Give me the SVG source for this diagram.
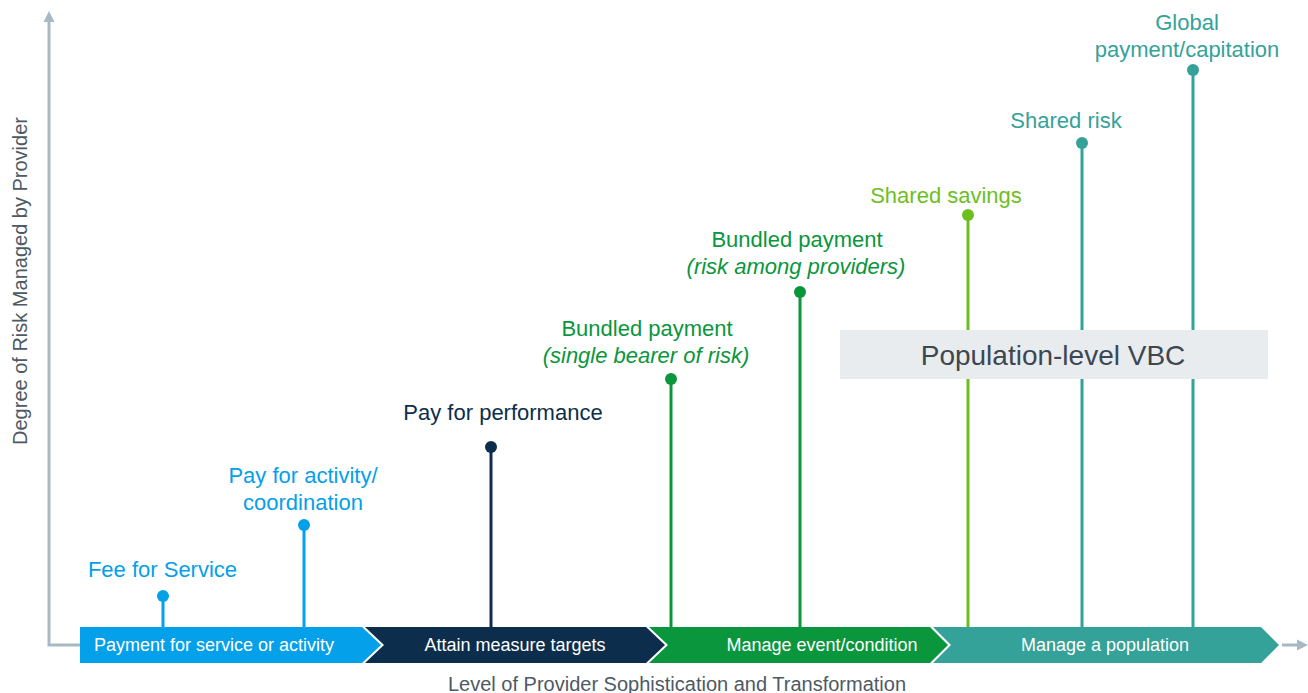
<svg xmlns="http://www.w3.org/2000/svg" width="1308" height="693" viewBox="0 0 1308 693">
  <style>
    text { font-family: "Liberation Sans", Arial, Helvetica, sans-serif; }
    .lbl { font-size: 22px; text-anchor: middle; }
    .it { font-style: italic; }
    .bar { font-size: 18px; fill: #ffffff; text-anchor: middle; }
    .axis-t { font-size: 20px; fill: #4d5964; text-anchor: middle; }
    .axis { stroke: #a9b9c3; stroke-width: 3; fill: none; }
    .stem { stroke-width: 3; fill: none; }
    .c-blue { fill: #05a0ea; } .s-blue { stroke: #05a0ea; }
    .c-navy { fill: #0c2e4c; } .s-navy { stroke: #0c2e4c; }
    .c-green { fill: #0a963c; } .s-green { stroke: #0a963c; }
    .c-lime { fill: #6cbf1f; } .s-lime { stroke: #6cbf1f; }
    .c-teal { fill: #35a299; } .s-teal { stroke: #35a299; }
  </style>
  <rect width="1308" height="693" fill="#ffffff"/>

  <!-- axes -->
  <g id="axes">
    <polyline class="axis" points="49,20 49,645 80,645"/>
    <polygon points="43.5,22 49,11 54.5,22" fill="#a9b9c3"/>
    <line class="axis" x1="1282" y1="645" x2="1299" y2="645"/>
    <polygon points="1297,639.5 1308,645 1297,650.5" fill="#a9b9c3"/>
    <text class="axis-t" transform="translate(27,281) rotate(-90)">Degree of Risk Managed by Provider</text>
    <text class="axis-t" x="677" y="691">Level of Provider Sophistication and Transformation</text>
  </g>

  <!-- connectors: stems from each payment model down to the stage bar -->
  <g id="connectors">
    <line class="stem s-blue" x1="163" y1="596" x2="163" y2="627"/>
    <line class="stem s-blue" x1="304" y1="525" x2="304" y2="627"/>
    <line class="stem s-navy" x1="491" y1="447" x2="491" y2="627"/>
    <line class="stem s-green" x1="671" y1="379" x2="671" y2="627"/>
    <line class="stem s-green" x1="800" y1="292" x2="800" y2="627"/>
    <line class="stem s-lime" x1="968" y1="215" x2="968" y2="627"/>
    <line class="stem s-teal" x1="1082" y1="143" x2="1082" y2="627"/>
    <line class="stem s-teal" x1="1193" y1="70" x2="1193" y2="627"/>
  </g>

  <!-- stage chevrons -->
  <g id="stage-service">
    <polygon class="c-blue" points="80,627 362,627 381,645 362,663 80,663"/>
    <text class="bar" x="214" y="651">Payment for service or activity</text>
  </g>
  <g id="stage-targets">
    <polygon class="c-navy" points="365,627 646,627 665,645 646,663 365,663 384,645"/>
    <text class="bar" x="515" y="651">Attain measure targets</text>
  </g>
  <g id="stage-event">
    <polygon class="c-green" points="649,627 930,627 948,645 930,663 649,663 668,645"/>
    <text class="bar" x="822" y="651">Manage event/condition</text>
  </g>
  <g id="stage-population">
    <polygon class="c-teal" points="933,627 1261,627 1279,645 1261,663 933,663 951,645"/>
    <text class="bar" x="1105" y="651">Manage a population</text>
  </g>

  <!-- payment models -->
  <g id="fee-for-service">
    <circle class="c-blue" cx="163" cy="596" r="6"/>
    <text class="lbl c-blue" x="162.5" y="577">Fee for Service</text>
  </g>
  <g id="pay-for-activity">
    <circle class="c-blue" cx="304" cy="525" r="6"/>
    <text class="lbl c-blue" x="303" y="483">Pay for activity/</text>
    <text class="lbl c-blue" x="303" y="510">coordination</text>
  </g>
  <g id="pay-for-performance">
    <circle class="c-navy" cx="491" cy="447" r="6"/>
    <text class="lbl c-navy" x="503" y="420">Pay for performance</text>
  </g>
  <g id="bundled-single">
    <circle class="c-green" cx="671" cy="379" r="6"/>
    <text class="lbl c-green" x="647" y="336">Bundled payment</text>
    <text class="lbl c-green it" x="646" y="363">(single bearer of risk)</text>
  </g>
  <g id="bundled-providers">
    <circle class="c-green" cx="800" cy="292" r="6"/>
    <text class="lbl c-green" x="797" y="247">Bundled payment</text>
    <text class="lbl c-green it" x="796" y="274">(risk among providers)</text>
  </g>
  <g id="shared-savings">
    <circle class="c-lime" cx="968" cy="215" r="6"/>
    <text class="lbl c-lime" x="946" y="203">Shared savings</text>
  </g>
  <g id="shared-risk">
    <circle class="c-teal" cx="1082" cy="143" r="6"/>
    <text class="lbl c-teal" x="1066" y="128">Shared risk</text>
  </g>
  <g id="global-payment">
    <circle class="c-teal" cx="1193" cy="70" r="6"/>
    <text class="lbl c-teal" x="1187" y="30">Global</text>
    <text class="lbl c-teal" x="1187" y="57">payment/capitation</text>
  </g>

  <!-- population-level band -->
  <g id="population-vbc">
    <rect x="840" y="330" width="428" height="49" fill="#e8ecef"/>
    <text x="1053" y="365" font-size="28" fill="#3d4751" text-anchor="middle">Population-level VBC</text>
  </g>
</svg>
